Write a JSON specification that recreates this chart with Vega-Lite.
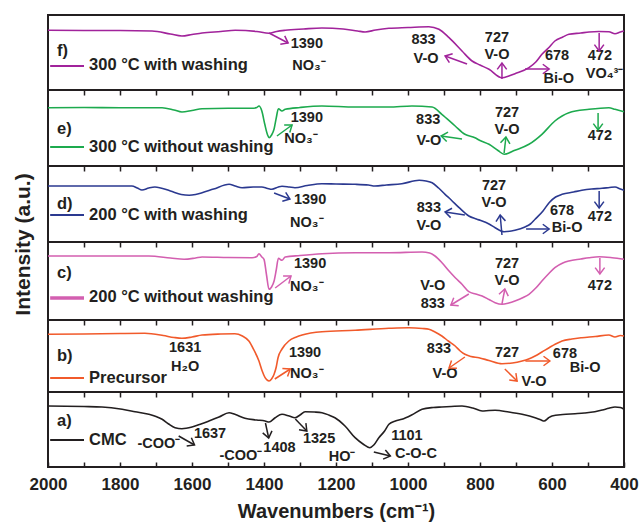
{
  "$schema": "https://vega.github.io/schema/vega-lite/v6.json",
  "padding": {"left": 10, "top": 14, "right": 17, "bottom": 4},
  "background": "white",
  "spacing": 0,
  "bounds": "flush",
  "config": {
    "font": "Liberation Sans",
    "view": {"stroke": "#231F20", "strokeWidth": 2},
    "axis": {"grid": false, "domain": false, "tickColor": "#231F20", "labelColor": "#231F20", "titleColor": "#231F20", "labelFont": "Liberation Sans", "titleFont": "Liberation Sans", "labelFontWeight": "bold", "titleFontWeight": "bold"}
  },
  "datasets": {
    "spectra": [
      {"p":"f","wn":2000,"h":59.7},{"p":"f","wn":1900,"h":59.5},{"p":"f","wn":1800,"h":59.5},{"p":"f","wn":1711,"h":59},{"p":"f","wn":1660,"h":56},{"p":"f","wn":1628,"h":54},{"p":"f","wn":1600,"h":55.5},{"p":"f","wn":1572,"h":57},{"p":"f","wn":1520,"h":58.5},{"p":"f","wn":1480,"h":59.7},{"p":"f","wn":1420,"h":58.5},{"p":"f","wn":1386,"h":56.7},{"p":"f","wn":1365,"h":58.5},{"p":"f","wn":1341,"h":59.7},{"p":"f","wn":1290,"h":61},{"p":"f","wn":1239,"h":62},{"p":"f","wn":1180,"h":61},{"p":"f","wn":1140,"h":59},{"p":"f","wn":1119,"h":58},{"p":"f","wn":1090,"h":60},{"p":"f","wn":1053,"h":61.7},{"p":"f","wn":1000,"h":62.5},{"p":"f","wn":942,"h":63.3},{"p":"f","wn":914,"h":60.7},{"p":"f","wn":886,"h":52.3},{"p":"f","wn":850,"h":39},{"p":"f","wn":822,"h":29},{"p":"f","wn":800,"h":25},{"p":"f","wn":775,"h":20.7},{"p":"f","wn":739,"h":12.3},{"p":"f","wn":720,"h":14},{"p":"f","wn":703,"h":16.3},{"p":"f","wn":664,"h":22.3},{"p":"f","wn":645,"h":28},{"p":"f","wn":628,"h":35.7},{"p":"f","wn":610,"h":42},{"p":"f","wn":592,"h":49},{"p":"f","wn":570,"h":53},{"p":"f","wn":553,"h":55.7},{"p":"f","wn":520,"h":57},{"p":"f","wn":497,"h":58},{"p":"f","wn":470,"h":58.5},{"p":"f","wn":442,"h":58.3},{"p":"f","wn":425,"h":56.3},{"p":"f","wn":410,"h":58},{"p":"f","wn":400,"h":59},
      {"p":"e","wn":2000,"h":58.3},{"p":"e","wn":1900,"h":58.5},{"p":"e","wn":1800,"h":58.3},{"p":"e","wn":1683,"h":58.3},{"p":"e","wn":1650,"h":56},{"p":"e","wn":1628,"h":54},{"p":"e","wn":1600,"h":55.5},{"p":"e","wn":1572,"h":57.3},{"p":"e","wn":1500,"h":57.7},{"p":"e","wn":1433,"h":57.7},{"p":"e","wn":1420,"h":58.5},{"p":"e","wn":1414,"h":60},{"p":"e","wn":1406,"h":55},{"p":"e","wn":1398,"h":42},{"p":"e","wn":1390,"h":31},{"p":"e","wn":1386,"h":28.3},{"p":"e","wn":1379,"h":31},{"p":"e","wn":1372,"h":37},{"p":"e","wn":1366,"h":48},{"p":"e","wn":1360,"h":57.3},{"p":"e","wn":1350,"h":55},{"p":"e","wn":1341,"h":56.7},{"p":"e","wn":1300,"h":58.5},{"p":"e","wn":1239,"h":60},{"p":"e","wn":1147,"h":59},{"p":"e","wn":1053,"h":59},{"p":"e","wn":989,"h":60},{"p":"e","wn":933,"h":59},{"p":"e","wn":906,"h":51.7},{"p":"e","wn":869,"h":40},{"p":"e","wn":842,"h":31.7},{"p":"e","wn":814,"h":28.3},{"p":"e","wn":800,"h":25.5},{"p":"e","wn":775,"h":21.7},{"p":"e","wn":750,"h":15.5},{"p":"e","wn":733,"h":11.7},{"p":"e","wn":703,"h":15.7},{"p":"e","wn":664,"h":21.7},{"p":"e","wn":628,"h":31.7},{"p":"e","wn":592,"h":45},{"p":"e","wn":553,"h":53.3},{"p":"e","wn":497,"h":56.7},{"p":"e","wn":442,"h":58.3},{"p":"e","wn":425,"h":56.7},{"p":"e","wn":400,"h":54.3},
      {"p":"d","wn":2000,"h":56},{"p":"d","wn":1900,"h":56},{"p":"d","wn":1767,"h":56},{"p":"d","wn":1752,"h":54},{"p":"d","wn":1739,"h":52},{"p":"d","wn":1720,"h":54},{"p":"d","wn":1703,"h":55},{"p":"d","wn":1660,"h":51},{"p":"d","wn":1630,"h":47.5},{"p":"d","wn":1608,"h":46.7},{"p":"d","wn":1590,"h":47.5},{"p":"d","wn":1572,"h":49.3},{"p":"d","wn":1540,"h":53},{"p":"d","wn":1497,"h":57.7},{"p":"d","wn":1480,"h":56},{"p":"d","wn":1461,"h":54.3},{"p":"d","wn":1430,"h":55},{"p":"d","wn":1406,"h":55},{"p":"d","wn":1390,"h":53.5},{"p":"d","wn":1378,"h":52.7},{"p":"d","wn":1360,"h":55},{"p":"d","wn":1350,"h":55.7},{"p":"d","wn":1330,"h":55},{"p":"d","wn":1314,"h":54.3},{"p":"d","wn":1280,"h":56.5},{"p":"d","wn":1239,"h":58.3},{"p":"d","wn":1200,"h":58},{"p":"d","wn":1147,"h":57.7},{"p":"d","wn":1110,"h":57},{"p":"d","wn":1092,"h":56},{"p":"d","wn":1060,"h":57},{"p":"d","wn":1017,"h":58.3},{"p":"d","wn":969,"h":61.7},{"p":"d","wn":950,"h":61},{"p":"d","wn":933,"h":59.3},{"p":"d","wn":915,"h":54},{"p":"d","wn":897,"h":47.7},{"p":"d","wn":880,"h":42},{"p":"d","wn":858,"h":34.3},{"p":"d","wn":831,"h":26},{"p":"d","wn":810,"h":23},{"p":"d","wn":794,"h":21},{"p":"d","wn":775,"h":18},{"p":"d","wn":758,"h":14.3},{"p":"d","wn":733,"h":10.3},{"p":"d","wn":703,"h":11.7},{"p":"d","wn":675,"h":15},{"p":"d","wn":660,"h":18},{"p":"d","wn":647,"h":22.7},{"p":"d","wn":625,"h":31},{"p":"d","wn":608,"h":39.3},{"p":"d","wn":590,"h":45},{"p":"d","wn":572,"h":47.7},{"p":"d","wn":540,"h":50},{"p":"d","wn":517,"h":51.7},{"p":"d","wn":490,"h":53},{"p":"d","wn":461,"h":53.7},{"p":"d","wn":440,"h":54.5},{"p":"d","wn":425,"h":55},{"p":"d","wn":410,"h":53},{"p":"d","wn":400,"h":51.7},
      {"p":"c","wn":2000,"h":64},{"p":"c","wn":1900,"h":64},{"p":"c","wn":1800,"h":64},{"p":"c","wn":1720,"h":64},{"p":"c","wn":1660,"h":62},{"p":"c","wn":1622,"h":60.7},{"p":"c","wn":1590,"h":62},{"p":"c","wn":1572,"h":63},{"p":"c","wn":1500,"h":62.5},{"p":"c","wn":1433,"h":62.3},{"p":"c","wn":1420,"h":63.5},{"p":"c","wn":1414,"h":66.3},{"p":"c","wn":1406,"h":63},{"p":"c","wn":1400,"h":60.7},{"p":"c","wn":1393,"h":45},{"p":"c","wn":1386,"h":30.7},{"p":"c","wn":1379,"h":33},{"p":"c","wn":1372,"h":39},{"p":"c","wn":1366,"h":50},{"p":"c","wn":1360,"h":61.7},{"p":"c","wn":1350,"h":59.7},{"p":"c","wn":1341,"h":63},{"p":"c","wn":1300,"h":64.5},{"p":"c","wn":1239,"h":66.3},{"p":"c","wn":1147,"h":67.3},{"p":"c","wn":1053,"h":67.3},{"p":"c","wn":961,"h":68},{"p":"c","wn":940,"h":67},{"p":"c","wn":925,"h":64},{"p":"c","wn":905,"h":57},{"p":"c","wn":886,"h":49},{"p":"c","wn":868,"h":42},{"p":"c","wn":850,"h":35.7},{"p":"c","wn":831,"h":28.3},{"p":"c","wn":812,"h":26},{"p":"c","wn":794,"h":24},{"p":"c","wn":775,"h":20.5},{"p":"c","wn":758,"h":17.3},{"p":"c","wn":739,"h":15.7},{"p":"c","wn":720,"h":17},{"p":"c","wn":703,"h":19},{"p":"c","wn":680,"h":22.5},{"p":"c","wn":664,"h":25.7},{"p":"c","wn":645,"h":32},{"p":"c","wn":628,"h":39},{"p":"c","wn":610,"h":46},{"p":"c","wn":592,"h":52.3},{"p":"c","wn":570,"h":57},{"p":"c","wn":553,"h":59},{"p":"c","wn":520,"h":61},{"p":"c","wn":497,"h":62.3},{"p":"c","wn":469,"h":63.3},{"p":"c","wn":433,"h":62.3},{"p":"c","wn":400,"h":60.7},
      {"p":"b","wn":2000,"h":57.7},{"p":"b","wn":1900,"h":58},{"p":"b","wn":1800,"h":58.5},{"p":"b","wn":1731,"h":58.7},{"p":"b","wn":1680,"h":56.5},{"p":"b","wn":1650,"h":54.5},{"p":"b","wn":1628,"h":53.7},{"p":"b","wn":1600,"h":55},{"p":"b","wn":1572,"h":57},{"p":"b","wn":1520,"h":58},{"p":"b","wn":1481,"h":58.3},{"p":"b","wn":1460,"h":56},{"p":"b","wn":1442,"h":51},{"p":"b","wn":1428,"h":42},{"p":"b","wn":1414,"h":31},{"p":"b","wn":1405,"h":21},{"p":"b","wn":1397,"h":14.3},{"p":"b","wn":1386,"h":11},{"p":"b","wn":1379,"h":13},{"p":"b","wn":1372,"h":17.7},{"p":"b","wn":1366,"h":25},{"p":"b","wn":1361,"h":34.3},{"p":"b","wn":1350,"h":43},{"p":"b","wn":1331,"h":51},{"p":"b","wn":1310,"h":55},{"p":"b","wn":1294,"h":57},{"p":"b","wn":1239,"h":60.3},{"p":"b","wn":1147,"h":61.7},{"p":"b","wn":1053,"h":63.7},{"p":"b","wn":997,"h":64.3},{"p":"b","wn":960,"h":63.5},{"p":"b","wn":942,"h":62.7},{"p":"b","wn":925,"h":60},{"p":"b","wn":906,"h":56},{"p":"b","wn":888,"h":51},{"p":"b","wn":869,"h":46},{"p":"b","wn":855,"h":41},{"p":"b","wn":842,"h":37.7},{"p":"b","wn":825,"h":35.5},{"p":"b","wn":803,"h":34.3},{"p":"b","wn":775,"h":31.5},{"p":"b","wn":739,"h":28.3},{"p":"b","wn":710,"h":29},{"p":"b","wn":683,"h":31},{"p":"b","wn":665,"h":33},{"p":"b","wn":647,"h":36},{"p":"b","wn":628,"h":40},{"p":"b","wn":608,"h":44.3},{"p":"b","wn":590,"h":48},{"p":"b","wn":572,"h":51},{"p":"b","wn":545,"h":53},{"p":"b","wn":517,"h":54.3},{"p":"b","wn":480,"h":55.5},{"p":"b","wn":442,"h":57},{"p":"b","wn":425,"h":55},{"p":"b","wn":410,"h":56.5},{"p":"b","wn":400,"h":56},
      {"p":"a","wn":2000,"h":61},{"p":"a","wn":1900,"h":60.5},{"p":"a","wn":1850,"h":60},{"p":"a","wn":1794,"h":57.7},{"p":"a","wn":1758,"h":55.3},{"p":"a","wn":1720,"h":52.7},{"p":"a","wn":1700,"h":50.5},{"p":"a","wn":1683,"h":47.7},{"p":"a","wn":1665,"h":43},{"p":"a","wn":1647,"h":39.3},{"p":"a","wn":1628,"h":38.3},{"p":"a","wn":1600,"h":40},{"p":"a","wn":1575,"h":43},{"p":"a","wn":1553,"h":46},{"p":"a","wn":1525,"h":50},{"p":"a","wn":1497,"h":54.3},{"p":"a","wn":1481,"h":52.7},{"p":"a","wn":1453,"h":48.7},{"p":"a","wn":1420,"h":47},{"p":"a","wn":1397,"h":46},{"p":"a","wn":1386,"h":45},{"p":"a","wn":1369,"h":49.3},{"p":"a","wn":1350,"h":52.7},{"p":"a","wn":1330,"h":51},{"p":"a","wn":1314,"h":49.3},{"p":"a","wn":1300,"h":52},{"p":"a","wn":1286,"h":55.3},{"p":"a","wn":1260,"h":55},{"p":"a","wn":1239,"h":54.3},{"p":"a","wn":1220,"h":52},{"p":"a","wn":1203,"h":49.3},{"p":"a","wn":1175,"h":41},{"p":"a","wn":1147,"h":29.3},{"p":"a","wn":1125,"h":23},{"p":"a","wn":1106,"h":19.3},{"p":"a","wn":1095,"h":22},{"p":"a","wn":1081,"h":29.3},{"p":"a","wn":1065,"h":36},{"p":"a","wn":1053,"h":42.7},{"p":"a","wn":1035,"h":46},{"p":"a","wn":1017,"h":47.7},{"p":"a","wn":990,"h":52},{"p":"a","wn":961,"h":57.7},{"p":"a","wn":930,"h":59.5},{"p":"a","wn":906,"h":60},{"p":"a","wn":880,"h":60.5},{"p":"a","wn":850,"h":61},{"p":"a","wn":820,"h":59},{"p":"a","wn":794,"h":56},{"p":"a","wn":775,"h":56.5},{"p":"a","wn":758,"h":56.7},{"p":"a","wn":720,"h":55},{"p":"a","wn":683,"h":52.7},{"p":"a","wn":647,"h":49.3},{"p":"a","wn":630,"h":47},{"p":"a","wn":622,"h":46},{"p":"a","wn":610,"h":49},{"p":"a","wn":600,"h":51},{"p":"a","wn":570,"h":52.5},{"p":"a","wn":536,"h":53.3},{"p":"a","wn":510,"h":54},{"p":"a","wn":481,"h":55.3},{"p":"a","wn":460,"h":57},{"p":"a","wn":442,"h":58.7},{"p":"a","wn":425,"h":60},{"p":"a","wn":410,"h":59.5},{"p":"a","wn":400,"h":57.7}
    ],
    "labels": [
      {"p":"f","wn":1975,"h":39,"t":"f)"},{"p":"f","wn":1886,"h":25,"t":"300 °C with washing"},
      {"p":"e","wn":1975,"h":37,"t":"e)"},{"p":"e","wn":1886,"h":19,"t":"300 °C without washing"},
      {"p":"d","wn":1975,"h":38,"t":"d)"},{"p":"d","wn":1886,"h":27,"t":"200 °C with washing"},
      {"p":"c","wn":1975,"h":47,"t":"c)"},{"p":"c","wn":1886,"h":23,"t":"200 °C without washing"},
      {"p":"b","wn":1975,"h":36,"t":"b)"},{"p":"b","wn":1886,"h":14,"t":"Precursor"},
      {"p":"a","wn":1975,"h":46,"t":"a)"},{"p":"a","wn":1886,"h":27,"t":"CMC"}
    ],
    "keys": [
      {"p":"f","wn":1994,"wn2":1900,"h":24},
      {"p":"e","wn":1994,"wn2":1900,"h":19},
      {"p":"d","wn":1994,"wn2":1900,"h":27},
      {"p":"c","wn":1994,"wn2":1900,"h":22},
      {"p":"b","wn":1994,"wn2":1900,"h":14},
      {"p":"a","wn":1994,"wn2":1900,"h":27}
    ],
    "notes": [
      {"p":"f","wn":1281,"h":46,"t":"1390"},{"p":"f","wn":1275,"h":24,"t":"NO₃⁻"},{"p":"f","wn":957,"h":50,"t":"833"},{"p":"f","wn":950,"h":31,"t":"V-O"},{"p":"f","wn":753,"h":52,"t":"727"},{"p":"f","wn":753,"h":35,"t":"V-O"},{"p":"f","wn":586,"h":34,"t":"678"},{"p":"f","wn":581,"h":11,"t":"Bi-O"},{"p":"f","wn":467,"h":34,"t":"472"},{"p":"f","wn":454,"h":16,"t":"VO₄³⁻"},
      {"p":"e","wn":1281,"h":48,"t":"1390"},{"p":"e","wn":1297,"h":27,"t":"NO₃⁻"},{"p":"e","wn":944,"h":46,"t":"833"},{"p":"e","wn":942,"h":25,"t":"V-O"},{"p":"e","wn":725,"h":53,"t":"727"},{"p":"e","wn":725,"h":36,"t":"V-O"},{"p":"e","wn":467,"h":30,"t":"472"},
      {"p":"d","wn":1272,"h":42,"t":"1390"},{"p":"d","wn":1281,"h":19,"t":"NO₃⁻"},{"p":"d","wn":942,"h":34,"t":"833"},{"p":"d","wn":942,"h":16,"t":"V-O"},{"p":"d","wn":761,"h":56,"t":"727"},{"p":"d","wn":761,"h":39,"t":"V-O"},{"p":"d","wn":572,"h":31,"t":"678"},{"p":"d","wn":558,"h":14,"t":"Bi-O"},{"p":"d","wn":467,"h":25,"t":"472"},
      {"p":"c","wn":1272,"h":56,"t":"1390"},{"p":"c","wn":1281,"h":33,"t":"NO₃⁻"},{"p":"c","wn":931,"h":34,"t":"V-O"},{"p":"c","wn":931,"h":16,"t":"833"},{"p":"c","wn":725,"h":56,"t":"727"},{"p":"c","wn":725,"h":39,"t":"V-O"},{"p":"c","wn":467,"h":34,"t":"472"},
      {"p":"b","wn":1619,"h":44,"t":"1631"},{"p":"b","wn":1619,"h":25,"t":"H₂O"},{"p":"b","wn":1286,"h":39,"t":"1390"},{"p":"b","wn":1281,"h":18,"t":"NO₃⁻"},{"p":"b","wn":914,"h":43,"t":"833"},{"p":"b","wn":897,"h":18,"t":"V-O"},{"p":"b","wn":725,"h":39,"t":"727"},{"p":"b","wn":650,"h":10,"t":"V-O"},{"p":"b","wn":564,"h":38,"t":"678"},{"p":"b","wn":508,"h":24,"t":"Bi-O"},
      {"p":"a","wn":1692,"h":23,"t":"-COO⁻"},{"p":"a","wn":1550,"h":33,"t":"1637"},{"p":"a","wn":1464,"h":11,"t":"-COO⁻"},{"p":"a","wn":1357,"h":19,"t":"1408"},{"p":"a","wn":1247,"h":28,"t":"1325"},{"p":"a","wn":1183,"h":10,"t":"HO⁻"},{"p":"a","wn":1003,"h":31,"t":"1101"},{"p":"a","wn":978,"h":13,"t":"C-O-C"}
    ],
    "arrows": [
      {"p":"f","wn":1386,"h":57,"wn2":1333,"h2":47},{"p":"f","wn":836,"h":26,"wn2":897,"h2":34},{"p":"f","wn":739,"h":11,"wn2":739,"h2":27},{"p":"f","wn":675,"h":21,"wn2":608,"h2":21},{"p":"f","wn":469,"h":57,"wn2":469,"h2":39},
      {"p":"e","wn":1364,"h":30,"wn2":1322,"h2":41},{"p":"e","wn":850,"h":27,"wn2":908,"h2":30},{"p":"e","wn":733,"h":13,"wn2":728,"h2":29},{"p":"e","wn":472,"h":53,"wn2":472,"h2":36},
      {"p":"d","wn":1372,"h":49,"wn2":1328,"h2":43},{"p":"d","wn":842,"h":27,"wn2":897,"h2":30},{"p":"d","wn":739,"h":7,"wn2":744,"h2":27},{"p":"d","wn":672,"h":13,"wn2":608,"h2":13},{"p":"d","wn":469,"h":51,"wn2":469,"h2":34},
      {"p":"c","wn":1369,"h":32,"wn2":1325,"h2":44},{"p":"c","wn":831,"h":26,"wn2":881,"h2":15},{"p":"c","wn":739,"h":16,"wn2":731,"h2":31},{"p":"c","wn":467,"h":62,"wn2":467,"h2":46},
      {"p":"b","wn":1370,"h":13,"wn2":1327,"h2":23},{"p":"b","wn":842,"h":35,"wn2":886,"h2":24},{"p":"b","wn":731,"h":23,"wn2":697,"h2":11},{"p":"b","wn":674,"h":31,"wn2":606,"h2":31},
      {"p":"a","wn":1637,"h":31,"wn2":1593,"h2":22},{"p":"a","wn":1396,"h":44,"wn2":1387,"h2":29},{"p":"a","wn":1313,"h":48,"wn2":1281,"h2":36},{"p":"a","wn":1095,"h":15,"wn2":1049,"h2":11}
    ]
  },
  "vconcat": [
    {
      "width": 576, "height": 75,
      "encoding": {
        "x": {"field": "wn", "type": "quantitative", "scale": {"domain": [2000, 400], "nice": false, "zero": false}, "axis": {"orient": "bottom", "values": [1900,1800,1700,1600,1500,1400,1300,1200,1100,1000,900,800,700,600,500], "labels": false, "tickSize": 5, "tickWidth": 1.5, "title": null}},
        "y": {"field": "h", "type": "quantitative", "scale": {"domain": [0, 75], "nice": false, "zero": false}, "axis": null}
      },
      "layer": [
        {"data": {"name": "spectra"}, "transform": [{"filter": "datum.p === 'f'"}], "mark": {"type": "line", "color": "#A1239B", "strokeWidth": 1.6, "interpolate": "monotone"}},
        {"data": {"name": "keys"}, "transform": [{"filter": "datum.p === 'f'"}], "mark": {"type": "rule", "color": "#A1239B", "strokeWidth": 2}, "encoding": {"x2": {"field": "wn2"}}},
        {"data": {"name": "labels"}, "transform": [{"filter": "datum.p === 'f'"}], "mark": {"type": "text", "align": "left", "baseline": "middle", "fontSize": 16.5, "fontWeight": "bold", "color": "#231F20"}, "encoding": {"text": {"field": "t"}}},
        {"data": {"name": "notes"}, "transform": [{"filter": "datum.p === 'f'"}], "mark": {"type": "text", "align": "center", "baseline": "middle", "fontSize": 14.5, "fontWeight": "bold", "color": "#231F20"}, "encoding": {"text": {"field": "t"}}},
        {"data": {"name": "arrows"}, "transform": [{"filter": "datum.p === 'f'"}], "mark": {"type": "rule", "color": "#A1239B", "strokeWidth": 1.5}, "encoding": {"x2": {"field": "wn2"}, "y2": {"field": "h2"}}},
        {"data": {"name": "arrows"}, "transform": [{"filter": "datum.p === 'f'"}, {"calculate": "atan2(-(datum.h2 - datum.h), -(datum.wn2 - datum.wn) * 0.36) * 180 / PI", "as": "ang"}], "mark": {"type": "point", "shape": "M -1 -0.75 L 0 0 L -1 0.75", "filled": false, "size": 160, "strokeWidth": 1.5, "color": "#A1239B", "opacity": 1}, "encoding": {"x": {"field": "wn2", "type": "quantitative"}, "y": {"field": "h2", "type": "quantitative"}, "angle": {"field": "ang", "type": "quantitative", "scale": null}}}
      ]
    },
    {
      "width": 576, "height": 76,
      "encoding": {
        "x": {"field": "wn", "type": "quantitative", "scale": {"domain": [2000, 400], "nice": false, "zero": false}, "axis": {"orient": "bottom", "values": [1900,1800,1700,1600,1500,1400,1300,1200,1100,1000,900,800,700,600,500], "labels": false, "tickSize": 5, "tickWidth": 1.5, "title": null}},
        "y": {"field": "h", "type": "quantitative", "scale": {"domain": [0, 76], "nice": false, "zero": false}, "axis": null}
      },
      "layer": [
        {"data": {"name": "spectra"}, "transform": [{"filter": "datum.p === 'e'"}], "mark": {"type": "line", "color": "#1DAA4E", "strokeWidth": 1.6, "interpolate": "monotone"}},
        {"data": {"name": "keys"}, "transform": [{"filter": "datum.p === 'e'"}], "mark": {"type": "rule", "color": "#1DAA4E", "strokeWidth": 2}, "encoding": {"x2": {"field": "wn2"}}},
        {"data": {"name": "labels"}, "transform": [{"filter": "datum.p === 'e'"}], "mark": {"type": "text", "align": "left", "baseline": "middle", "fontSize": 16.5, "fontWeight": "bold", "color": "#231F20"}, "encoding": {"text": {"field": "t"}}},
        {"data": {"name": "notes"}, "transform": [{"filter": "datum.p === 'e'"}], "mark": {"type": "text", "align": "center", "baseline": "middle", "fontSize": 14.5, "fontWeight": "bold", "color": "#231F20"}, "encoding": {"text": {"field": "t"}}},
        {"data": {"name": "arrows"}, "transform": [{"filter": "datum.p === 'e'"}], "mark": {"type": "rule", "color": "#1DAA4E", "strokeWidth": 1.5}, "encoding": {"x2": {"field": "wn2"}, "y2": {"field": "h2"}}},
        {"data": {"name": "arrows"}, "transform": [{"filter": "datum.p === 'e'"}, {"calculate": "atan2(-(datum.h2 - datum.h), -(datum.wn2 - datum.wn) * 0.36) * 180 / PI", "as": "ang"}], "mark": {"type": "point", "shape": "M -1 -0.75 L 0 0 L -1 0.75", "filled": false, "size": 160, "strokeWidth": 1.5, "color": "#1DAA4E", "opacity": 1}, "encoding": {"x": {"field": "wn2", "type": "quantitative"}, "y": {"field": "h2", "type": "quantitative"}, "angle": {"field": "ang", "type": "quantitative", "scale": null}}}
      ]
    },
    {
      "width": 576, "height": 76,
      "encoding": {
        "x": {"field": "wn", "type": "quantitative", "scale": {"domain": [2000, 400], "nice": false, "zero": false}, "axis": {"orient": "bottom", "values": [1900,1800,1700,1600,1500,1400,1300,1200,1100,1000,900,800,700,600,500], "labels": false, "tickSize": 5, "tickWidth": 1.5, "title": null}},
        "y": {"field": "h", "type": "quantitative", "scale": {"domain": [0, 76], "nice": false, "zero": false}, "axis": {"title": "Intensity (a.u.)", "labels": false, "ticks": false, "domain": false, "grid": false, "titleFontSize": 21, "titleX": -15, "titleY": 78}}
      },
      "layer": [
        {"data": {"name": "spectra"}, "transform": [{"filter": "datum.p === 'd'"}], "mark": {"type": "line", "color": "#2B3990", "strokeWidth": 1.6, "interpolate": "monotone"}},
        {"data": {"name": "keys"}, "transform": [{"filter": "datum.p === 'd'"}], "mark": {"type": "rule", "color": "#2B3990", "strokeWidth": 2}, "encoding": {"x2": {"field": "wn2"}}},
        {"data": {"name": "labels"}, "transform": [{"filter": "datum.p === 'd'"}], "mark": {"type": "text", "align": "left", "baseline": "middle", "fontSize": 16.5, "fontWeight": "bold", "color": "#231F20"}, "encoding": {"text": {"field": "t"}}},
        {"data": {"name": "notes"}, "transform": [{"filter": "datum.p === 'd'"}], "mark": {"type": "text", "align": "center", "baseline": "middle", "fontSize": 14.5, "fontWeight": "bold", "color": "#231F20"}, "encoding": {"text": {"field": "t"}}},
        {"data": {"name": "arrows"}, "transform": [{"filter": "datum.p === 'd'"}], "mark": {"type": "rule", "color": "#2B3990", "strokeWidth": 1.5}, "encoding": {"x2": {"field": "wn2"}, "y2": {"field": "h2"}}},
        {"data": {"name": "arrows"}, "transform": [{"filter": "datum.p === 'd'"}, {"calculate": "atan2(-(datum.h2 - datum.h), -(datum.wn2 - datum.wn) * 0.36) * 180 / PI", "as": "ang"}], "mark": {"type": "point", "shape": "M -1 -0.75 L 0 0 L -1 0.75", "filled": false, "size": 160, "strokeWidth": 1.5, "color": "#2B3990", "opacity": 1}, "encoding": {"x": {"field": "wn2", "type": "quantitative"}, "y": {"field": "h2", "type": "quantitative"}, "angle": {"field": "ang", "type": "quantitative", "scale": null}}}
      ]
    },
    {
      "width": 576, "height": 78,
      "encoding": {
        "x": {"field": "wn", "type": "quantitative", "scale": {"domain": [2000, 400], "nice": false, "zero": false}, "axis": {"orient": "bottom", "values": [1900,1800,1700,1600,1500,1400,1300,1200,1100,1000,900,800,700,600,500], "labels": false, "tickSize": 5, "tickWidth": 1.5, "title": null}},
        "y": {"field": "h", "type": "quantitative", "scale": {"domain": [0, 78], "nice": false, "zero": false}, "axis": null}
      },
      "layer": [
        {"data": {"name": "spectra"}, "transform": [{"filter": "datum.p === 'c'"}], "mark": {"type": "line", "color": "#D35FB0", "strokeWidth": 1.6, "interpolate": "monotone"}},
        {"data": {"name": "keys"}, "transform": [{"filter": "datum.p === 'c'"}], "mark": {"type": "rule", "color": "#D35FB0", "strokeWidth": 3.5}, "encoding": {"x2": {"field": "wn2"}}},
        {"data": {"name": "labels"}, "transform": [{"filter": "datum.p === 'c'"}], "mark": {"type": "text", "align": "left", "baseline": "middle", "fontSize": 16.5, "fontWeight": "bold", "color": "#231F20"}, "encoding": {"text": {"field": "t"}}},
        {"data": {"name": "notes"}, "transform": [{"filter": "datum.p === 'c'"}], "mark": {"type": "text", "align": "center", "baseline": "middle", "fontSize": 14.5, "fontWeight": "bold", "color": "#231F20"}, "encoding": {"text": {"field": "t"}}},
        {"data": {"name": "arrows"}, "transform": [{"filter": "datum.p === 'c'"}], "mark": {"type": "rule", "color": "#D35FB0", "strokeWidth": 1.5}, "encoding": {"x2": {"field": "wn2"}, "y2": {"field": "h2"}}},
        {"data": {"name": "arrows"}, "transform": [{"filter": "datum.p === 'c'"}, {"calculate": "atan2(-(datum.h2 - datum.h), -(datum.wn2 - datum.wn) * 0.36) * 180 / PI", "as": "ang"}], "mark": {"type": "point", "shape": "M -1 -0.75 L 0 0 L -1 0.75", "filled": false, "size": 160, "strokeWidth": 1.5, "color": "#D35FB0", "opacity": 1}, "encoding": {"x": {"field": "wn2", "type": "quantitative"}, "y": {"field": "h2", "type": "quantitative"}, "angle": {"field": "ang", "type": "quantitative", "scale": null}}}
      ]
    },
    {
      "width": 576, "height": 72,
      "encoding": {
        "x": {"field": "wn", "type": "quantitative", "scale": {"domain": [2000, 400], "nice": false, "zero": false}, "axis": {"orient": "bottom", "values": [1900,1800,1700,1600,1500,1400,1300,1200,1100,1000,900,800,700,600,500], "labels": false, "tickSize": 5, "tickWidth": 1.5, "title": null}},
        "y": {"field": "h", "type": "quantitative", "scale": {"domain": [0, 72], "nice": false, "zero": false}, "axis": null}
      },
      "layer": [
        {"data": {"name": "spectra"}, "transform": [{"filter": "datum.p === 'b'"}], "mark": {"type": "line", "color": "#F15A2B", "strokeWidth": 1.6, "interpolate": "monotone"}},
        {"data": {"name": "keys"}, "transform": [{"filter": "datum.p === 'b'"}], "mark": {"type": "rule", "color": "#F15A2B", "strokeWidth": 2}, "encoding": {"x2": {"field": "wn2"}}},
        {"data": {"name": "labels"}, "transform": [{"filter": "datum.p === 'b'"}], "mark": {"type": "text", "align": "left", "baseline": "middle", "fontSize": 16.5, "fontWeight": "bold", "color": "#231F20"}, "encoding": {"text": {"field": "t"}}},
        {"data": {"name": "notes"}, "transform": [{"filter": "datum.p === 'b'"}], "mark": {"type": "text", "align": "center", "baseline": "middle", "fontSize": 14.5, "fontWeight": "bold", "color": "#231F20"}, "encoding": {"text": {"field": "t"}}},
        {"data": {"name": "arrows"}, "transform": [{"filter": "datum.p === 'b'"}], "mark": {"type": "rule", "color": "#F15A2B", "strokeWidth": 1.5}, "encoding": {"x2": {"field": "wn2"}, "y2": {"field": "h2"}}},
        {"data": {"name": "arrows"}, "transform": [{"filter": "datum.p === 'b'"}, {"calculate": "atan2(-(datum.h2 - datum.h), -(datum.wn2 - datum.wn) * 0.36) * 180 / PI", "as": "ang"}], "mark": {"type": "point", "shape": "M -1 -0.75 L 0 0 L -1 0.75", "filled": false, "size": 160, "strokeWidth": 1.5, "color": "#F15A2B", "opacity": 1}, "encoding": {"x": {"field": "wn2", "type": "quantitative"}, "y": {"field": "h2", "type": "quantitative"}, "angle": {"field": "ang", "type": "quantitative", "scale": null}}}
      ]
    },
    {
      "width": 576, "height": 75,
      "encoding": {
        "x": {"field": "wn", "type": "quantitative", "scale": {"domain": [2000, 400], "nice": false, "zero": false}, "axis": {"orient": "bottom", "values": [2000,1900,1800,1700,1600,1500,1400,1300,1200,1100,1000,900,800,700,600,500,400], "format": "d", "labelExpr": "datum.value % 200 === 0 ? datum.label : ''", "labelFlush": false, "labelOverlap": false, "labelFontSize": 17, "labelPadding": 14, "tickSize": -5, "tickWidth": 1.5, "title": "Wavenumbers (cm⁻¹)", "titleFontSize": 20, "titlePadding": 9}},
        "y": {"field": "h", "type": "quantitative", "scale": {"domain": [0, 75], "nice": false, "zero": false}, "axis": null}
      },
      "layer": [
        {"data": {"name": "spectra"}, "transform": [{"filter": "datum.p === 'a'"}], "mark": {"type": "line", "color": "#231F20", "strokeWidth": 1.6, "interpolate": "monotone"}},
        {"data": {"name": "keys"}, "transform": [{"filter": "datum.p === 'a'"}], "mark": {"type": "rule", "color": "#231F20", "strokeWidth": 2}, "encoding": {"x2": {"field": "wn2"}}},
        {"data": {"name": "labels"}, "transform": [{"filter": "datum.p === 'a'"}], "mark": {"type": "text", "align": "left", "baseline": "middle", "fontSize": 16.5, "fontWeight": "bold", "color": "#231F20"}, "encoding": {"text": {"field": "t"}}},
        {"data": {"name": "notes"}, "transform": [{"filter": "datum.p === 'a'"}], "mark": {"type": "text", "align": "center", "baseline": "middle", "fontSize": 14.5, "fontWeight": "bold", "color": "#231F20"}, "encoding": {"text": {"field": "t"}}},
        {"data": {"name": "arrows"}, "transform": [{"filter": "datum.p === 'a'"}], "mark": {"type": "rule", "color": "#231F20", "strokeWidth": 1.5}, "encoding": {"x2": {"field": "wn2"}, "y2": {"field": "h2"}}},
        {"data": {"name": "arrows"}, "transform": [{"filter": "datum.p === 'a'"}, {"calculate": "atan2(-(datum.h2 - datum.h), -(datum.wn2 - datum.wn) * 0.36) * 180 / PI", "as": "ang"}], "mark": {"type": "point", "shape": "M -1 -0.75 L 0 0 L -1 0.75", "filled": false, "size": 160, "strokeWidth": 1.5, "color": "#231F20", "opacity": 1}, "encoding": {"x": {"field": "wn2", "type": "quantitative"}, "y": {"field": "h2", "type": "quantitative"}, "angle": {"field": "ang", "type": "quantitative", "scale": null}}}
      ]
    }
  ]
}
